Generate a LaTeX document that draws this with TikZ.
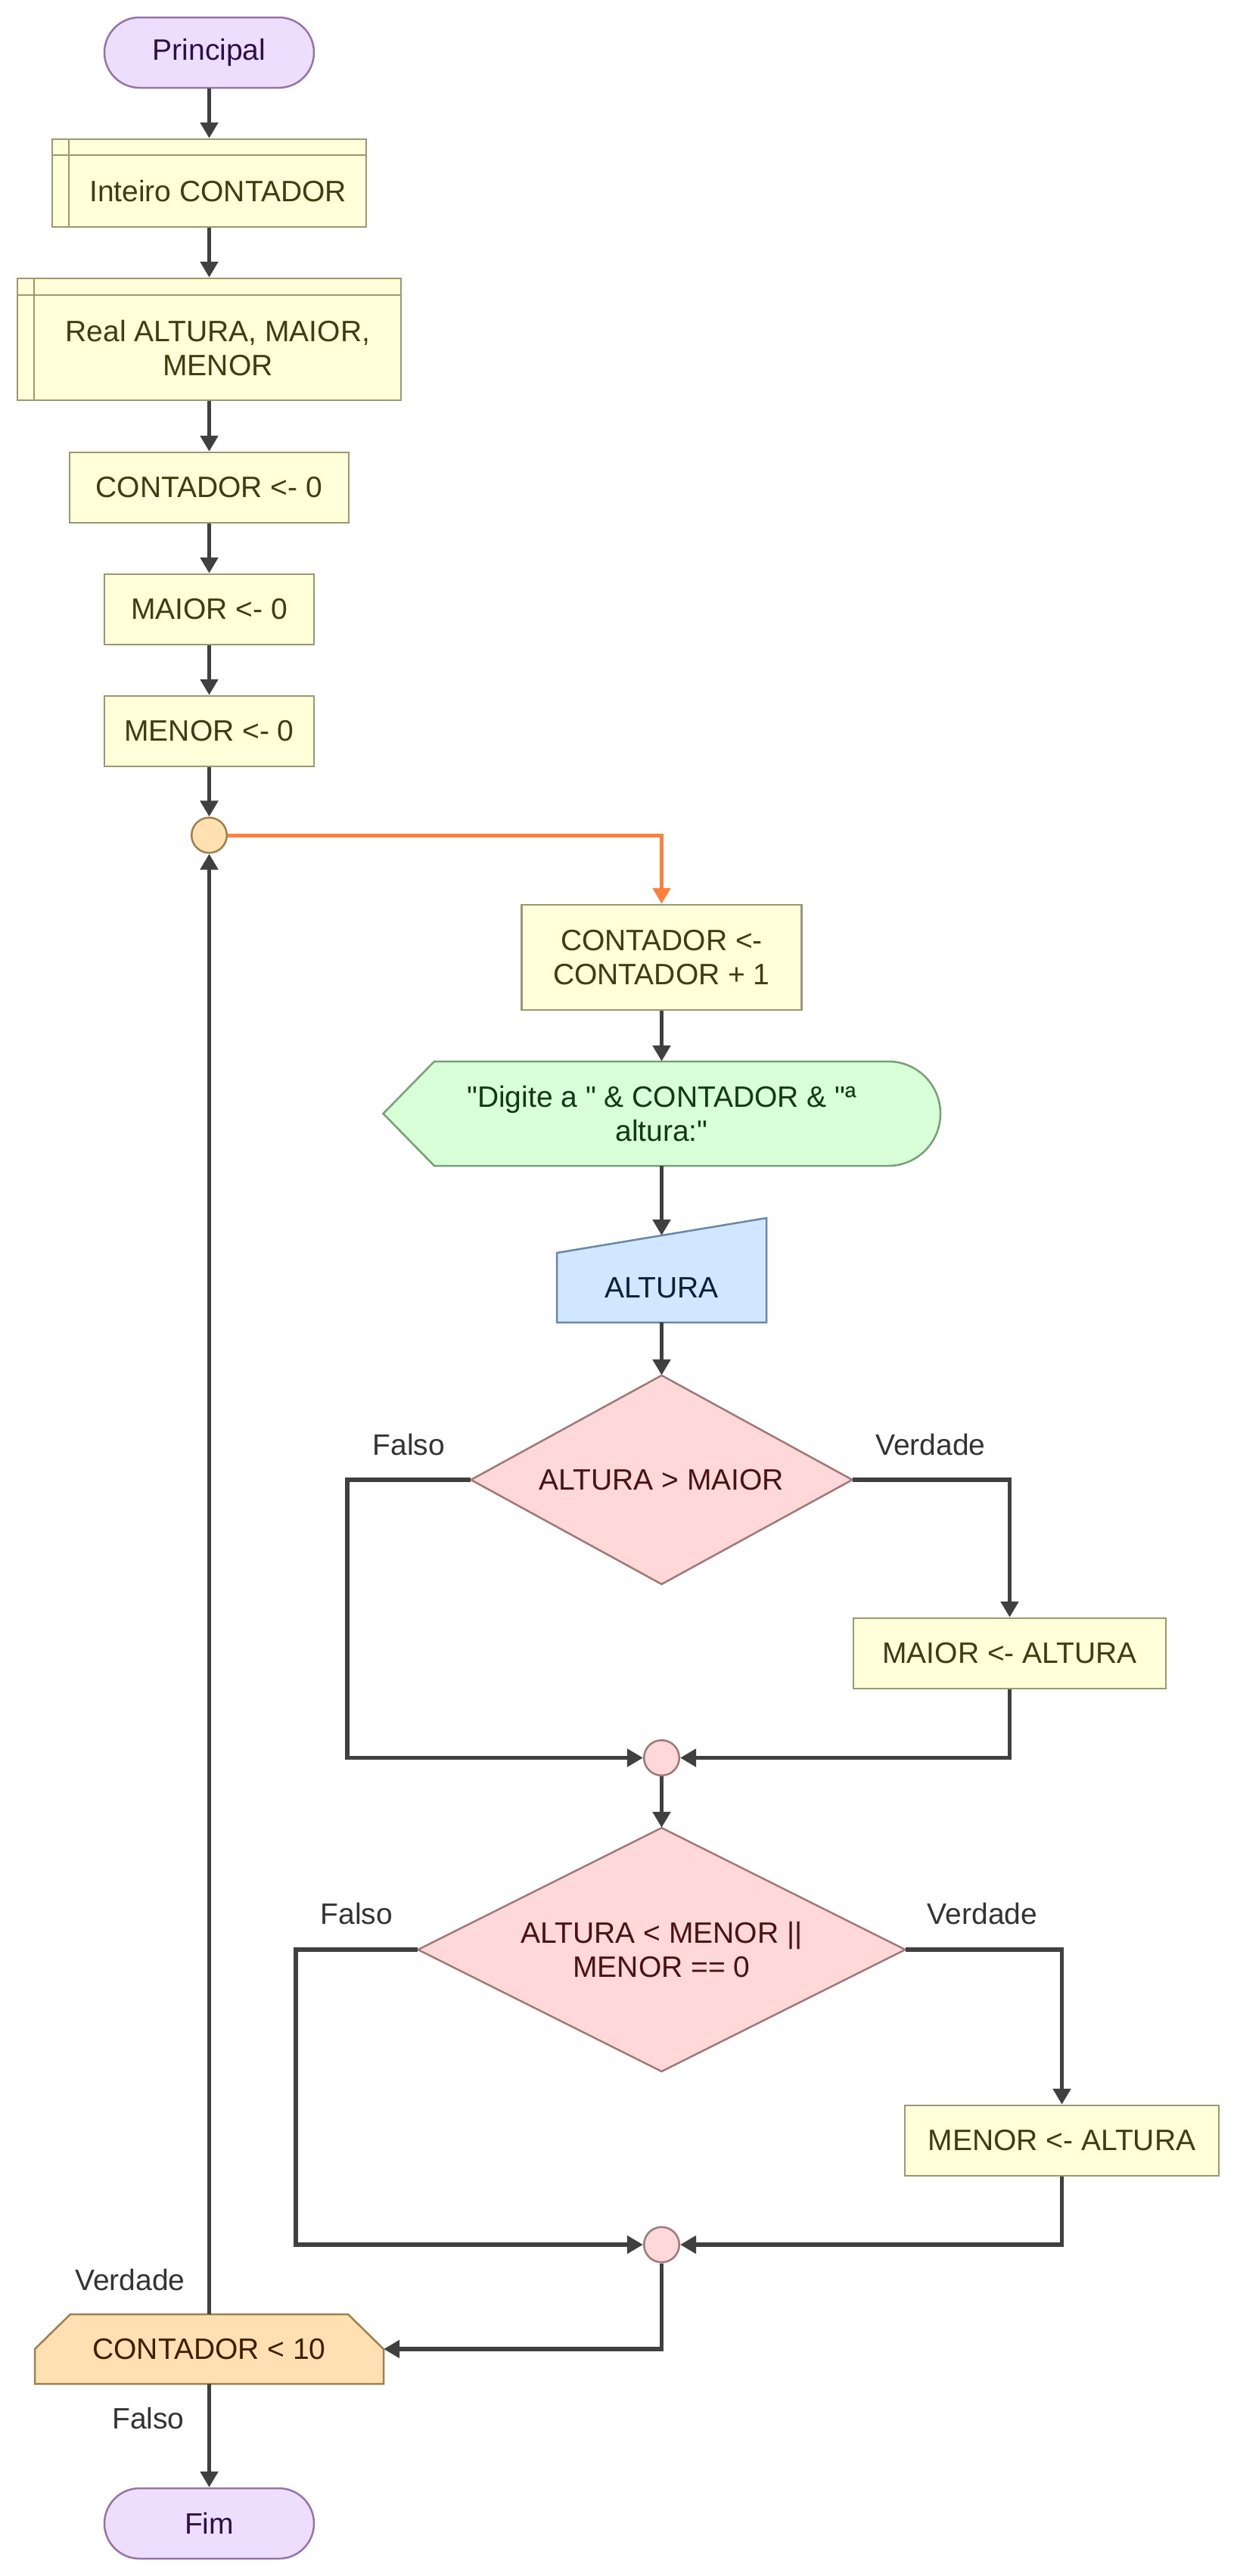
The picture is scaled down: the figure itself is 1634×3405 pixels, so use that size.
\documentclass[tikz,border=0pt]{standalone}
\usepackage{fontspec}
\setmainfont{Liberation Sans}[Ligatures=TeXOff]
\usetikzlibrary{arrows.meta}
\definecolor{termfill}{HTML}{EEDEFD}
\definecolor{termdraw}{HTML}{9673A8}
\definecolor{termtext}{HTML}{2D0F4A}
\definecolor{procfill}{HTML}{FFFFD9}
\definecolor{procdraw}{HTML}{9A9A72}
\definecolor{proctext}{HTML}{3D3D12}
\definecolor{outfill}{HTML}{D9FFD9}
\definecolor{outdraw}{HTML}{76A076}
\definecolor{outtext}{HTML}{103A10}
\definecolor{infill}{HTML}{D1E6FF}
\definecolor{indraw}{HTML}{6A86A8}
\definecolor{intext}{HTML}{0D1E3A}
\definecolor{decfill}{HTML}{FFD9D9}
\definecolor{decdraw}{HTML}{A07878}
\definecolor{dectext}{HTML}{4A1212}
\definecolor{loopfill}{HTML}{FFE0B3}
\definecolor{loopdraw}{HTML}{A0804C}
\definecolor{looptext}{HTML}{3E2000}
\definecolor{linec}{HTML}{404040}
\definecolor{orangec}{HTML}{FF7F3F}
\definecolor{lblc}{HTML}{333333}
\newcommand{\dqt}{\symbol{34}}
\begin{document}
\begin{tikzpicture}[x=1pt,y=-1pt,
  every node/.style={font=\fontsize{39pt}{45pt}\selectfont, inner sep=0pt, align=center},
  shp/.style={line width=2.5pt},
  term/.style={shp, draw=termdraw, fill=termfill, text=termtext, rectangle, rounded corners=46.5pt, minimum width=277pt, minimum height=93pt},
  proc/.style={shp, draw=procdraw, fill=procfill, text=proctext, rectangle},
  decl/.style={shp, draw=procdraw, fill=procfill, rectangle},
  decltext/.style={text=proctext},
  outshape/.style={shp, draw=outdraw, fill=outfill},
  inshape/.style={shp, draw=indraw, fill=infill},
  decshape/.style={shp, draw=decdraw, fill=decfill},
  dectextstyle/.style={text=dectext},
  loopshape/.style={shp, draw=loopdraw, fill=loopfill},
  startcirc/.style={shp, draw=loopdraw, fill=loopfill, circle, minimum size=46.6pt},
  joincirc/.style={shp, draw=decdraw, fill=decfill, circle, minimum size=46.6pt},
  conn/.style={draw=linec, line width=5.5pt, -{Triangle[length=21pt,width=23pt]}},
  loopconn/.style={draw=orangec, line width=5pt, -{Triangle[length=21pt,width=23pt]}},
  lbl/.style={text=lblc}
]
\useasboundingbox (0,0) rectangle (1634,3405);

% ---- left column ----
\node[term] (prin) at (276.5,69.5) {Principal};

\node[decl, minimum width=415pt, minimum height=116pt] (dA) at (276.5,242) {};
\draw[procdraw, line width=2.5pt] ([xshift=23pt]dA.north west) -- ([xshift=23pt]dA.south west);
\draw[procdraw, line width=2.5pt] ([yshift=-22pt]dA.north west) -- ([yshift=-22pt]dA.north east);
\node[decltext] (dAt) at (288,253) {Inteiro CONTADOR};

\node[decl, minimum width=507pt, minimum height=161pt] (dB) at (276.5,448.5) {};
\draw[procdraw, line width=2.5pt] ([xshift=23pt]dB.north west) -- ([xshift=23pt]dB.south west);
\draw[procdraw, line width=2.5pt] ([yshift=-23pt]dB.north west) -- ([yshift=-23pt]dB.north east);
\node[decltext] (dBt) at (288,460) {Real ALTURA, MAIOR,\\MENOR};

\node[proc, minimum width=369pt, minimum height=93pt] (c0) at (276.5,644.5) {CONTADOR <- 0};
\node[proc, minimum width=277pt, minimum height=93pt] (m1) at (276.5,805.5) {MAIOR <- 0};
\node[proc, minimum width=277pt, minimum height=93pt] (m2) at (276.5,966.5) {MENOR <- 0};
\node[startcirc] (c1) at (276.5,1104) {};

% ---- right column ----
\node[proc, minimum width=370pt, minimum height=139pt] (inc) at (874.5,1265.5) {CONTADOR <-\\CONTADOR + 1};

\path[outshape] (506.5,1472) -- (574,1403) -- (1174,1403) arc (-90:90:69) -- (574,1541) -- cycle;
\node[text=outtext, minimum width=737pt, minimum height=138pt] (out) at (874.5,1472) {\dqt Digite a \dqt{} \& CONTADOR \& \dqt ª\\altura:\dqt};

\path[inshape] (736,1656) -- (1013,1610) -- (1013,1748) -- (736,1748) -- cycle;
\node[text=intext] (inp) at (874.5,1702) {ALTURA};
\coordinate (inpTop) at (874.5,1633);
\coordinate (inpBot) at (874.5,1748);

\path[decshape] (874.5,1818) -- (1126.5,1956) -- (874.5,2094) -- (622.5,1956) -- cycle;
\node[dectextstyle, minimum width=504pt, minimum height=276pt] (d1) at (874.5,1956) {ALTURA > MAIOR};
\node[proc, minimum width=413pt, minimum height=93pt] (maior) at (1334.5,2185.5) {MAIOR <- ALTURA};
\node[joincirc] (j1) at (874.5,2323.5) {};

\path[decshape] (874.5,2416) -- (1196.5,2577) -- (874.5,2738) -- (552.5,2577) -- cycle;
\node[dectextstyle, minimum width=644pt, minimum height=322pt] (d2) at (874.5,2577) {ALTURA < MENOR ||\\MENOR == 0};
\node[proc, minimum width=415pt, minimum height=93pt] (menor) at (1403.5,2829.5) {MENOR <- ALTURA};
\node[joincirc] (j2) at (874.5,2967) {};

% ---- loop test and end ----
\path[loopshape] (46,3151) -- (46,3105) -- (93,3059) -- (460,3059) -- (507,3105) -- (507,3151) -- cycle;
\node[text=looptext, minimum width=461pt, minimum height=92pt] (loop) at (276.5,3105) {CONTADOR < 10};
\node[term] (fim) at (276.5,3335.5) {Fim};

% ---- connectors ----
\draw[conn] (prin.south) -- (dA.north);
\draw[conn] (dA.south) -- (dB.north);
\draw[conn] (dB.south) -- (c0.north);
\draw[conn] (c0.south) -- (m1.north);
\draw[conn] (m1.south) -- (m2.north);
\draw[conn] (m2.south) -- (c1.north);
\draw[loopconn] (c1.east) -| (inc.north);
\draw[conn] (inc.south) -- (out.north);
\draw[conn] (out.south) -- (inpTop);
\draw[conn] (inpBot) -- (d1.north);

\coordinate (f1) at (459,1956);
\draw[conn] (d1.west) -- (f1) |- (j1.west);
\draw[conn] (d1.east) -| (maior.north);
\draw[conn] (maior.south) |- (j1.east);
\draw[conn] (j1.south) -- (d2.north);

\coordinate (f2) at (391,2577);
\draw[conn] (d2.west) -- (f2) |- (j2.west);
\draw[conn] (d2.east) -| (menor.north);
\draw[conn] (menor.south) |- (j2.east);
\draw[conn] (j2.south) |- (loop.east);

\draw[conn] (loop.north) -- (c1.south);
\draw[conn] (loop.south) -- (fim.north);

% ---- labels ----
\node[lbl] (lf1) at (540.5,1910) {Falso};
\node[lbl] (lv1) at (1230,1910) {Verdade};
\node[lbl] (lf2) at (471.5,2530) {Falso};
\node[lbl] (lv2) at (1298.5,2530) {Verdade};
\node[lbl] (lv3) at (172,3014) {Verdade};
\node[lbl] (lf3) at (196,3197) {Falso};
\end{tikzpicture}
\end{document}
